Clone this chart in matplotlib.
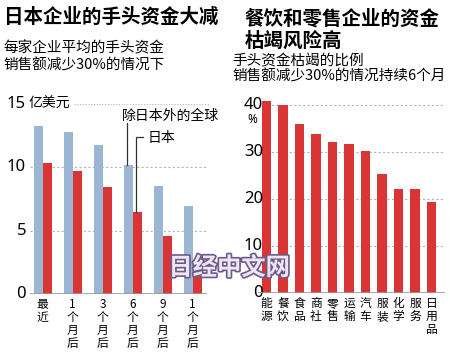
import matplotlib
matplotlib.use("Agg")
import matplotlib.pyplot as plt
import matplotlib.patheffects as pe
import numpy as np

plt.rcParams['font.family'] = ['Noto Sans CJK SC', 'DejaVu Sans']

# Left chart data (100 million USD)
periods = ["最\n近", "1\n个\n月\n后", "3\n个\n月\n后", "6\n个\n月\n后", "9\n个\n月\n后", "1\n个\n月\n后"]
global_ex_japan = [13.3, 12.8, 11.75, 10.15, 8.55, 6.95]
japan = [10.35, 9.7, 8.45, 6.5, 4.6, 2.7]
left_yticks = [0, 5, 10]

# Right chart data (%)
industries = ["能\n源", "餐\n饮", "食\n品", "商\n社", "零\n售", "运\n输", "汽\n车", "服\n装", "化\n学", "服\n务", "日\n用\n品"]
ratios = [40.9, 40.0, 36.0, 33.9, 32.1, 31.6, 30.3, 25.4, 22.2, 22.2, 19.4]
right_yticks = [0, 10, 20, 30, 40]

BLUE = "#9ab6d2"
RED = "#d93535"
GRID = "#b5b5b5"
NUMFONT = ['Noto Sans', 'DejaVu Sans']
W, H = 450, 358

fig = plt.figure(figsize=(4.5, 3.58), dpi=100)
fig.patch.set_facecolor("white")

def fx(px):
    return px / W

def fy(py):
    return 1 - py / H

# ---------- Left axes ----------
axL = fig.add_axes([fx(30), fy(294), fx(207) - fx(30), fy(104) - fy(294)])
x = np.arange(len(periods))
bw = 0.3
axL.bar(x - bw / 2, global_ex_japan, width=bw, color=BLUE, zorder=3)
axL.bar(x + bw / 2, japan, width=bw, color=RED, zorder=3)
axL.set_xlim(-0.42, 5.48)
axL.set_ylim(0, 15)
for s in axL.spines.values():
    s.set_visible(False)
axL.axhline(0, color="#999999", lw=1.2, zorder=4)
for v in [5, 10]:
    axL.axhline(v, color=GRID, lw=0.8, ls=(0, (2, 2)), zorder=1)
axL.plot([1.05, 5.55], [15, 15], color=GRID, lw=0.8, ls=(0, (1, 1.5)), clip_on=False)
axL.set_yticks([])
for v in left_yticks:
    axL.text(-0.55, v, str(v), ha="right", va="center", fontsize=12,
             fontweight="bold", family=NUMFONT, clip_on=False)
axL.text(-0.58, 15, "15", ha="right", va="center", fontsize=12,
         fontweight="bold", family=NUMFONT, clip_on=False)
axL.text(-0.47, 15, "亿美元", ha="left", va="center", fontsize=10, clip_on=False)
axL.set_xticks(x)
axL.set_xticklabels(periods, fontsize=8.5, linespacing=1.0)
axL.tick_params(axis="x", length=0, pad=3)

# legend annotation lines
axL.plot([2.82, 2.82], [global_ex_japan[3], 13.5], color="#333333", lw=0.9, clip_on=False, zorder=5)
axL.text(2.64, 14.1, "除日本外的全球", ha="left", va="center", fontsize=10, clip_on=False)
axL.plot([3.1, 3.1, 3.33], [japan[3], 12.36, 12.36], color="#333333", lw=0.9, clip_on=False, zorder=5)
axL.text(3.51, 12.3, "日本", ha="left", va="center", fontsize=10, clip_on=False)

# ---------- Right axes ----------
axR = fig.add_axes([fx(258), fy(292.7), fx(445) - fx(258), fy(95.7) - fy(292.7)])
xr = np.arange(len(industries))
axR.bar(xr, ratios, width=0.57, color=RED, zorder=3)
axR.set_xlim(-0.51, 10.81)
axR.set_ylim(0, 42)
for s in axR.spines.values():
    s.set_visible(False)
axR.axhline(0, color="#999999", lw=1.2, zorder=4)
for v in [10, 20, 30, 40]:
    axR.axhline(v, color=GRID, lw=0.8, ls=(0, (2, 2)), zorder=1)
axR.set_yticks([])
for v in right_yticks:
    axR.text(-0.2, v, str(v), ha="right", va="center", fontsize=12,
             fontweight="bold", family=NUMFONT, clip_on=False)
axR.text(-0.85, 37.0, "%", ha="center", va="center", fontsize=8.5,
         family=NUMFONT, clip_on=False)
axR.set_xticks(xr)
axR.set_xticklabels(industries, fontsize=8.5, linespacing=1.0)
axR.tick_params(axis="x", length=0, pad=3)

# ---------- Titles ----------
fig.text(fx(4), fy(17.5), "日本企业的手头资金大减", fontsize=14, fontweight="bold",
         ha="left", va="center")
fig.text(fx(3), fy(48), "每家企业平均的手头资金", fontsize=10.5, ha="left", va="center")
fig.text(fx(3), fy(65), "销售额减少30%的情况下", fontsize=10.5, ha="left", va="center")

fig.text(fx(245), fy(18.5), "餐饮和零售企业的资金", fontsize=14, fontweight="bold",
         ha="left", va="center")
fig.text(fx(245), fy(41), "枯竭风险高", fontsize=14, fontweight="bold",
         ha="left", va="center")
fig.text(fx(232), fy(61), "手头资金枯竭的比例", fontsize=10.5, ha="left", va="center")
fig.text(fx(232), fy(76), "销售额减少30%的情况持续6个月", fontsize=10.5, ha="left", va="center")

# watermark
wm = fig.text(fx(229), fy(268), "日经中文网", fontsize=17.5, fontweight="bold",
              ha="center", va="center", color="#ece6f2", style="italic", zorder=10)
wm.set_path_effects([pe.Stroke(linewidth=2.4, foreground="#6e5a8c"), pe.Normal()])

fig.savefig("out.png", dpi=100, facecolor="white")
